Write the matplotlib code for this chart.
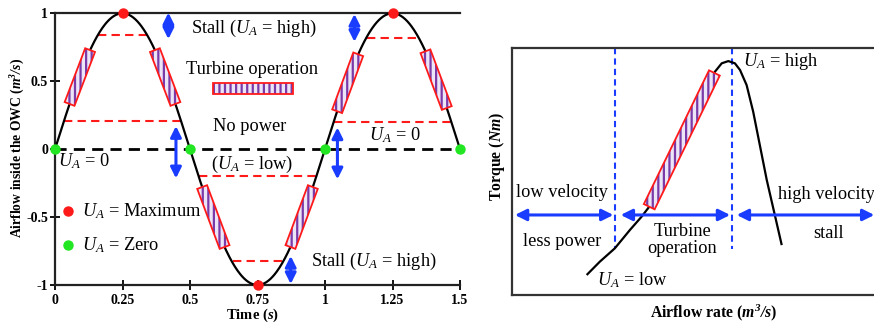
import numpy as np
import matplotlib
matplotlib.use('Agg')
import matplotlib.pyplot as plt
from matplotlib.patches import Polygon, Rectangle

plt.rcParams['font.family'] = ['Liberation Serif', 'DejaVu Serif']
plt.rcParams['mathtext.fontset'] = 'custom'
plt.rcParams['mathtext.rm'] = 'Liberation Serif'
plt.rcParams['mathtext.it'] = 'Liberation Serif:italic'
plt.rcParams['mathtext.bf'] = 'Liberation Serif:bold'
plt.rcParams['mathtext.bfit'] = 'Liberation Serif:bold:italic'
plt.rcParams['axes.unicode_minus'] = False
plt.rcParams['hatch.linewidth'] = 1.6

# ---------------- data: left panel ----------------
period = 1.0
amplitude = 1.0
t_max = 1.5
max_times = [0.25, 1.25, 0.75]
max_values = [1.0, 1.0, -1.0]
zero_times = [0.0, 0.5, 1.0, 1.5]
zero_values = [0.0, 0.0, 0.0, 0.0]
# red dashed threshold lines
level_y = [0.84, 0.21, 0.82, 0.20, -0.20, -0.82]
level_t0 = [0.16, 0.034, 1.154, 1.032, 0.533, 0.66]
level_t1 = [0.34, 0.466, 1.346, 1.468, 0.967, 0.84]
# turbine-operation bands along the curve (time ranges)
band_t0 = [0.054, 0.370, 0.545, 0.872, 1.045, 1.372]
band_t1 = [0.130, 0.446, 0.628, 0.955, 1.123, 1.451]
# blue double arrows
arrow_t = [0.42, 1.109, 0.448, 1.046, 0.873]
arrow_y0 = [1.005, 0.995, 0.17, 0.16, -0.786]
arrow_y1 = [0.81, 0.79, -0.215, -0.222, -0.993]
x_ticks = [0, 0.25, 0.5, 0.75, 1, 1.25, 1.5]
x_tick_labels = ['0', '0.25', '0.5', '0.75', '1', '1.25', '1.5']
y_ticks = [-1, -0.5, 0, 0.5, 1]
y_tick_labels = ['-1', '-0.5', '0', '0.5', '1']

# ---------------- data: right panel (schematic, normalised) ----------------
curve_x = [0.204, 0.240, 0.281, 0.322, 0.354, 0.382, 0.404, 0.468, 0.530,
           0.555, 0.573, 0.591, 0.609, 0.623, 0.641, 0.659, 0.696, 0.737]
curve_y = [0.081, 0.135, 0.189, 0.263, 0.317, 0.371, 0.425, 0.631, 0.830,
           0.905, 0.938, 0.947, 0.938, 0.911, 0.850, 0.742, 0.466, 0.202]
vline_x = [0.281, 0.601]
vline_ybottom = [0.189, 0.186]
band_x = [0.375, 0.553]
harrow_y = 0.324
harrow_x0 = [0.008, 0.297, 0.614]
harrow_x1 = [0.277, 0.596, 0.99]

BLUE = '#1a3cff'
RED = '#ff1a1a'
PURPLE = '#7a3aa8'
FILL = '#ece4f7'

fig = plt.figure(figsize=(8.74, 3.25), dpi=100)
axL = fig.add_axes([55/874, 1-285/325, 405/874, 271.7/325])
axR = fig.add_axes([512/874, 1-295/325, 366/874, 247/325])


def band(ax, p0, p1, width_px):
    T = ax.transData
    d0 = T.transform(p0)
    d1 = T.transform(p1)
    v = d1 - d0
    v = v / np.hypot(*v)
    n = np.array([-v[1], v[0]]) * width_px / 2
    corners = np.array([d0 + n, d1 + n, d1 - n, d0 - n])
    dc = T.inverted().transform(corners)
    ax.add_patch(Polygon(dc, closed=True, facecolor=FILL, edgecolor=PURPLE,
                         hatch='|||', lw=0, zorder=4))
    ax.add_patch(Polygon(dc, closed=True, fill=False, edgecolor=RED,
                         lw=1.3, zorder=5))


def darrow(ax, p0, p1, ms=16, lw=2.2):
    ax.annotate('', xy=p1, xytext=p0,
                arrowprops=dict(arrowstyle='<|-|>', color=BLUE, lw=lw,
                                mutation_scale=ms, shrinkA=0, shrinkB=0),
                zorder=6)


fs = 13.2

# ---------------- left panel ----------------
ax = axL
ax.set_xlim(0, t_max)
ax.set_ylim(-1, 1)
t = np.linspace(0, t_max, 600)
y = amplitude * np.sin(2 * np.pi * t / period)
ax.plot(t, y, color='black', lw=1.6, zorder=3, clip_on=False)
ax.plot([0, t_max], [0, 0], color='black', lw=2.0, dashes=(4, 2.6), zorder=2)
for yy, a, b in zip(level_y, level_t0, level_t1):
    ax.plot([a, b], [yy, yy], color=RED, lw=1.5, dashes=(4, 2.5), zorder=2)
for a, b in zip(band_t0, band_t1):
    pa = (a, amplitude * np.sin(2 * np.pi * a / period))
    pb = (b, amplitude * np.sin(2 * np.pi * b / period))
    band(ax, pa, pb, 10.5)
for tt, a, b in zip(arrow_t, arrow_y0, arrow_y1):
    darrow(ax, (tt, a), (tt, b))
ax.plot(max_times, max_values, 'o', color=RED, ms=6.5, zorder=7, clip_on=False)
ax.plot(zero_times, zero_values, 'o', color='#22e622', ms=6.5, zorder=7, clip_on=False)

# legend-like items
ax.plot([0.049], [-0.453], 'o', color=RED, ms=6.5, zorder=7)
ax.plot([0.049], [-0.705], 'o', color='#22e622', ms=6.5, zorder=7)
ax.text(0.099, -0.453, r'$U_A$ = Maximum', fontsize=fs, va='center', ha='left')
ax.text(0.099, -0.705, r'$U_A$ = Zero', fontsize=fs, va='center', ha='left')
ax.text(0.735, 0.89, r'Stall ($U_A$ = high)', fontsize=fs, va='center', ha='center')
ax.text(0.728, 0.583, 'Turbine operation', fontsize=fs, va='center', ha='center')
ax.add_patch(Rectangle((0.585, 0.406), 0.296, 0.084, facecolor=FILL,
                       edgecolor=PURPLE, hatch='|||', lw=0, zorder=4))
ax.add_patch(Rectangle((0.585, 0.406), 0.296, 0.084, fill=False,
                       edgecolor=RED, lw=1.3, zorder=5))
ax.text(0.722, 0.166, 'No power', fontsize=fs, va='center', ha='center')
ax.text(0.105, -0.087, r'$U_A$ = 0', fontsize=fs, va='center', ha='center')
ax.text(1.26, 0.104, r'$U_A$ = 0', fontsize=fs, va='center', ha='center')
ax.text(0.731, -0.11, r'($U_A$ = low)', fontsize=fs, va='center', ha='center')
ax.text(1.181, -0.828, r'Stall ($U_A$ = high)', fontsize=fs, va='center', ha='center')

ax.set_xticks(x_ticks)
ax.set_xticklabels(x_tick_labels, fontweight='bold')
ax.set_yticks(y_ticks)
ax.set_yticklabels(y_tick_labels, fontweight='bold')
ax.tick_params(direction='inout', length=7, width=1.3, labelsize=10)
ax.tick_params(axis='y', pad=1.5)
ax.tick_params(axis='x', pad=3)
ax.spines['right'].set_visible(False)
for s in ['left', 'bottom', 'top']:
    ax.spines[s].set_linewidth(1.6)
    ax.spines[s].set_color('#222222')
ax.text(-0.092, 0.505, r'Airflow inside the OWC ($\mathbfit{m^3/s}$)', rotation=90,
        transform=ax.transAxes, ha='center', va='center', fontsize=9.8,
        fontweight='bold')
ax.text(0.488, -0.11, r'Time ($\mathbfit{s}$)', transform=ax.transAxes,
        ha='center', va='center', fontsize=10.5, fontweight='bold')

# ---------------- right panel ----------------
ax = axR
ax.set_xlim(0, 1)
ax.set_ylim(0, 1)
ax.set_xticks([])
ax.set_yticks([])
for s in ax.spines.values():
    s.set_linewidth(1.6)
    s.set_color('#333333')
ax.plot(curve_x, curve_y, color='black', lw=1.6, zorder=3,
        solid_joinstyle='round', solid_capstyle='butt')
for xx, yb in zip(vline_x, vline_ybottom):
    ax.plot([xx, xx], [1, yb], color=BLUE, lw=1.5, dashes=(3, 2), zorder=2)
bx0, bx1 = band_x
band(ax, (bx0, np.interp(bx0, curve_x, curve_y)),
     (bx1, np.interp(bx1, curve_x, curve_y)), 12)
for a, b in zip(harrow_x0, harrow_x1):
    darrow(ax, (a, harrow_y), (b, harrow_y), ms=17, lw=2.2)
ax.text(0.136, 0.414, 'low velocity', fontsize=fs, ha='center', va='center')
ax.text(0.136, 0.216, 'less power', fontsize=fs, ha='center', va='center')
ax.text(0.465, 0.222, 'Turbine\noperation', fontsize=fs, ha='center', va='center',
        linespacing=1.05)
ax.text(0.728, 0.405, 'high velocity', fontsize=fs, ha='left', va='center')
ax.text(0.864, 0.25, 'stall', fontsize=fs, ha='center', va='center')
ax.text(0.632, 0.945, r'$U_A$ = high', fontsize=fs, ha='left', va='center')
ax.text(0.231, 0.061, r'$U_A$ = low', fontsize=fs, ha='left', va='center')
ax.text(-0.042, 0.56, r'Torque ($\mathbfit{Nm}$)', rotation=90,
        transform=ax.transAxes, ha='center', va='center', fontsize=11.3,
        fontweight='bold')
ax.text(0.55, -0.073, r'Airflow rate ($\mathbfit{m^3/s}$)', transform=ax.transAxes,
        ha='center', va='center', fontsize=11.3, fontweight='bold')

fig.savefig('out.png', dpi=100)
